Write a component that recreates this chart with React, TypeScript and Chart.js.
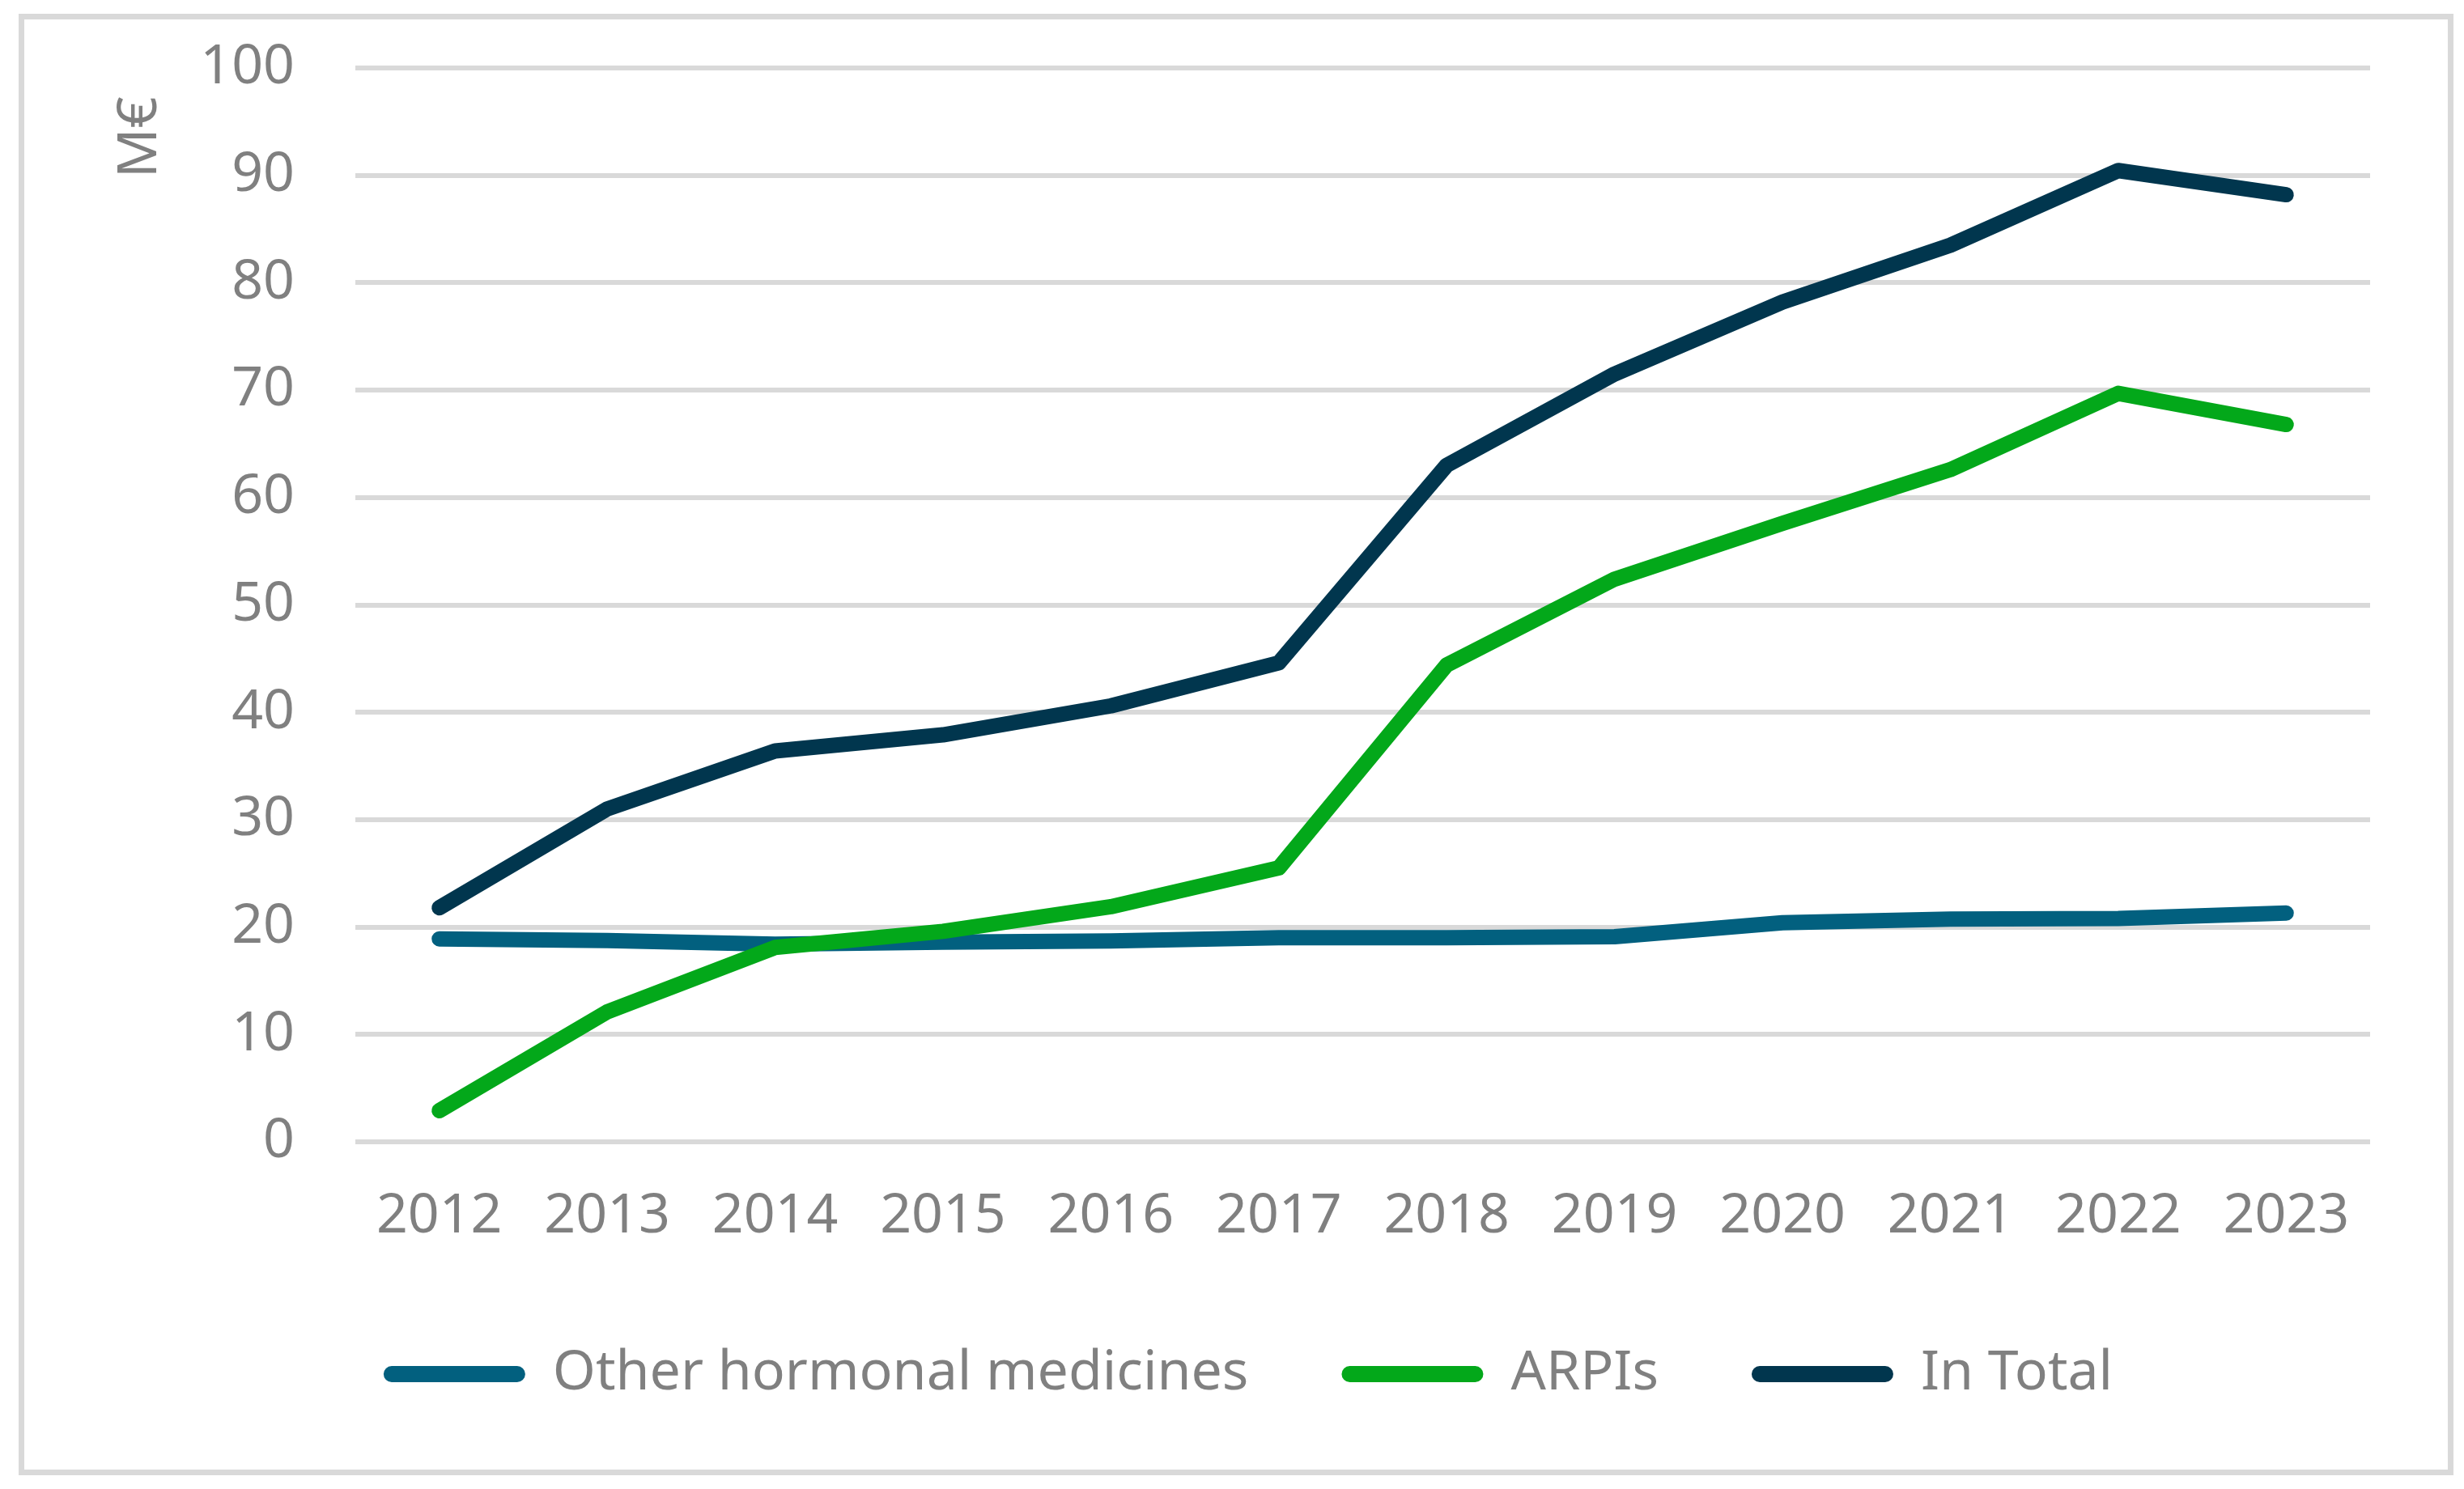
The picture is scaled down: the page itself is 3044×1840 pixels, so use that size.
import { useEffect, useRef } from "react";
import { Chart, registerables } from "chart.js";

Chart.register(...registerables);

const years = ["2012", "2013", "2014", "2015", "2016", "2017", "2018", "2019", "2020", "2021", "2022", "2023"];
const otherHormonal = [18.9, 18.75, 18.4, 18.6, 18.7, 19.0, 19.0, 19.1, 20.4, 20.75, 20.8, 21.3];
const arpis = [2.9, 12.1, 18.1, 19.6, 21.9, 25.5, 44.4, 52.4, 57.6, 62.6, 69.7, 66.8];
const inTotal = [21.8, 31.0, 36.4, 37.9, 40.6, 44.6, 63.0, 71.5, 78.2, 83.5, 90.45, 88.2];

const FONT = "'Noto Sans', 'Liberation Sans', Arial, sans-serif";
const TEXT = "#808080";
const GRID = "#d9d9d9";

export default function App() {
  const canvasRef = useRef<HTMLCanvasElement>(null);
  const chartRef = useRef<Chart | null>(null);

  useEffect(() => {
    if (!canvasRef.current) return;

    chartRef.current?.destroy();
    chartRef.current = new Chart(canvasRef.current, {
      type: "line",
      data: {
        labels: years,
        datasets: [
          { label: "Other hormonal medicines", data: otherHormonal, borderColor: "#02607F", backgroundColor: "#02607F", order: 3 },
          { label: "ARPIs", data: arpis, borderColor: "#03A81A", backgroundColor: "#03A81A", order: 2 },
          { label: "In Total", data: inTotal, borderColor: "#01364E", backgroundColor: "#01364E", order: 1 },
        ],
      },
      options: {
        responsive: false,
        devicePixelRatio: 1,
        animation: false,
        layout: { padding: { left: 156, right: 116, top: 84, bottom: 98 } },
        elements: {
          line: { borderWidth: 19, borderCapStyle: "round", borderJoinStyle: "round", tension: 0 },
          point: { radius: 0, hoverRadius: 0 },
        },
        plugins: {
          tooltip: { enabled: false },
          legend: {
            position: "bottom",
            sort: (a, b) => (a.datasetIndex ?? 0) - (b.datasetIndex ?? 0),
            labels: {
              color: TEXT,
              font: { family: FONT, size: 68 },
              boxWidth: 175,
              boxHeight: 20,
              padding: 115,
              useBorderRadius: true,
              borderRadius: 10,
              generateLabels: (chart) =>
                chart.data.datasets.map((ds, i) => ({
                  text: ds.label as string,
                  fillStyle: ds.borderColor as string,
                  strokeStyle: ds.borderColor as string,
                  lineWidth: 0,
                  fontColor: TEXT,
                  hidden: false,
                  datasetIndex: i,
                  borderRadius: 10,
                })),
            },
          },
        },
        scales: {
          x: {
            offset: true,
            grid: { display: false, drawTicks: false },
            border: { display: false },
            ticks: { color: TEXT, font: { family: FONT, size: 68 }, padding: 52, maxRotation: 0, autoSkip: false },
            afterFit: (scale) => { scale.height = 138; },
          },
          y: {
            min: 0,
            max: 100,
            grid: { color: GRID, lineWidth: 6, drawTicks: false },
            border: { display: false },
            ticks: { stepSize: 10, color: TEXT, font: { family: FONT, size: 68 }, padding: 75 },
            title: {
              display: true,
              text: "M€  ",
              align: "end",
              color: TEXT,
              font: { family: FONT, size: 68, lineHeight: 0.5 },
              padding: { top: 1, bottom: 0 },
            },
            afterFit: (scale) => {
              scale.width = 283;
              scale.paddingTop = 0;
              scale.paddingBottom = 0;
            },
          },
        },
      },
    });

    return () => { chartRef.current?.destroy(); };
  }, []);

  return (
    <div style={{ position: "absolute", left: 0, top: 0, width: 3044, height: 1840, background: "#fff" }}>
      <div
        style={{
          position: "absolute",
          left: 23,
          top: 17,
          width: 3008,
          height: 1806,
          border: `7px solid ${GRID}`,
          boxSizing: "border-box",
        }}
      />
      <canvas ref={canvasRef} width={3044} height={1840} style={{ position: "absolute", left: 0, top: 0 }} />
    </div>
  );
}
